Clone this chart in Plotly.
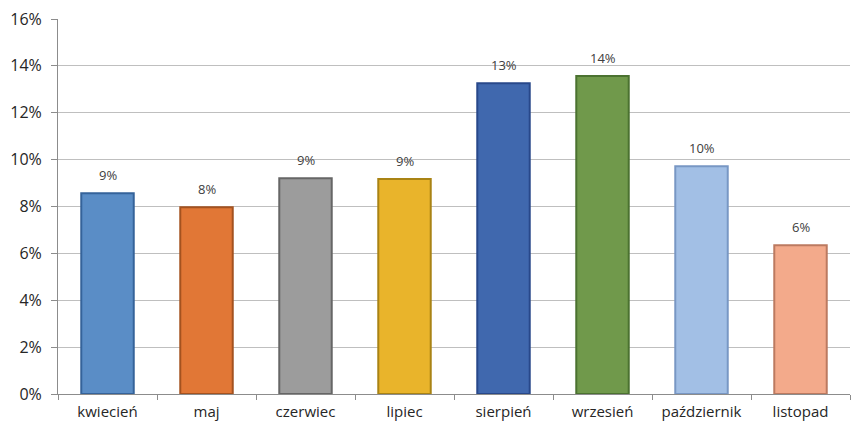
import plotly.graph_objects as go

months = ["kwiecień", "maj", "czerwiec", "lipiec", "sierpień", "wrzesień", "październik", "listopad"]
shares = [0.0857, 0.0797, 0.0921, 0.0917, 0.1326, 0.1357, 0.0972, 0.0635]
colors = ["#5A8DC6", "#E17736", "#9C9C9C", "#E9B42B", "#4068AE", "#70994B", "#A2BFE5", "#F3AA8B"]
edges = ["#35639A", "#A4521F", "#666666", "#A98314", "#28488A", "#4B7230", "#7897C4", "#BC7A60"]
y_ticks = [0, 0.02, 0.04, 0.06, 0.08, 0.10, 0.12, 0.14, 0.16]

FONT = "Open Sans, Liberation Sans, sans-serif"

fig = go.Figure()
fig.add_trace(go.Bar(
    x=months, y=shares,
    marker=dict(color=colors, line=dict(color=edges, width=2)),
    width=0.53,
    hoverinfo="skip",
))
for m, v in zip(months, shares):
    fig.add_annotation(x=m, y=v, text=f"{round(v*100):.0f}%", showarrow=False,
                       yanchor="bottom", yshift=7,
                       font=dict(family=FONT, size=13, color="#404040"))

fig.update_layout(
    width=855, height=426,
    margin=dict(l=58, r=5, t=19, b=32),
    paper_bgcolor="white", plot_bgcolor="white",
    showlegend=False,
    font=dict(family=FONT, size=14, color="#404040"),
)
fig.update_xaxes(
    showline=True, linecolor="#8C8C8C", linewidth=1,
    showgrid=False,
    tickson="boundaries", ticks="outside", ticklen=5, tickcolor="#8C8C8C",
    ticklabelstandoff=4,
    tickfont=dict(family=FONT, size=15, color="#262626"),
)
fig.update_yaxes(
    range=[0, 0.16], tickvals=y_ticks, tickformat=".0%",
    showline=True, linecolor="#8C8C8C", linewidth=1,
    ticks="outside", ticklen=6, tickcolor="#8C8C8C",
    ticklabelstandoff=6,
    showgrid=True, gridcolor="#BFBFBF", gridwidth=1,
    zeroline=False,
    tickfont=dict(family=FONT, size=16, color="#262626"),
)

fig.write_html("out.html")
